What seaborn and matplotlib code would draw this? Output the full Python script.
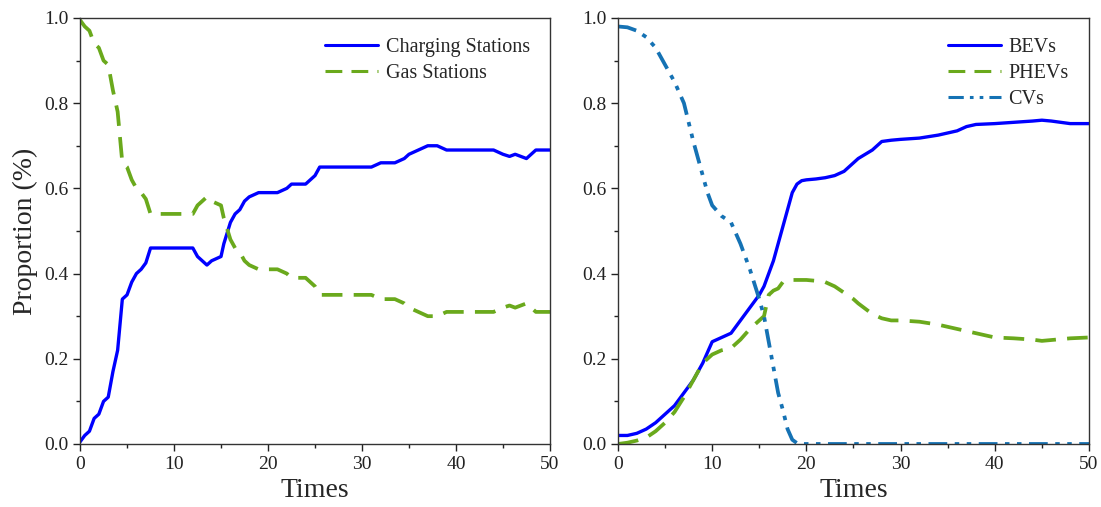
import numpy as np
import pandas as pd
import matplotlib
matplotlib.use("Agg")
import matplotlib.pyplot as plt
import seaborn as sns
from matplotlib.ticker import MultipleLocator, FormatStrFormatter

# left panel: stations
st_x = [0, 0.5, 1, 1.5, 2, 2.5, 3, 3.5, 4, 4.5, 5, 5.5, 6, 6.5, 7, 7.5, 8, 10, 12,
        12.5, 13, 13.5, 14, 15, 15.3, 16, 16.5, 17, 17.5, 18, 19, 21, 22, 22.5, 24,
        25, 25.5, 31, 32, 33.5, 34.5, 35, 36, 37, 38, 39, 44, 45, 45.7, 46.3, 47.5,
        48, 48.5, 50]
charging = [0.005, 0.02, 0.03, 0.06, 0.07, 0.10, 0.11, 0.17, 0.22, 0.34, 0.35, 0.38,
            0.40, 0.41, 0.425, 0.46, 0.46, 0.46, 0.46, 0.44, 0.43, 0.42, 0.43, 0.44,
            0.47, 0.52, 0.54, 0.55, 0.57, 0.58, 0.59, 0.59, 0.60, 0.61, 0.61, 0.63,
            0.65, 0.65, 0.66, 0.66, 0.67, 0.68, 0.69, 0.70, 0.70, 0.69, 0.69, 0.68,
            0.675, 0.68, 0.67, 0.68, 0.69, 0.69]
gas = [0.995, 0.98, 0.97, 0.94, 0.93, 0.90, 0.89, 0.83, 0.78, 0.66, 0.65, 0.62,
       0.60, 0.59, 0.575, 0.54, 0.54, 0.54, 0.54, 0.56, 0.57, 0.58, 0.57, 0.56,
       0.53, 0.48, 0.46, 0.45, 0.43, 0.42, 0.41, 0.41, 0.40, 0.39, 0.39, 0.37,
       0.35, 0.35, 0.34, 0.34, 0.33, 0.32, 0.31, 0.30, 0.30, 0.31, 0.31, 0.32,
       0.325, 0.32, 0.33, 0.32, 0.31, 0.31]

# right panel: vehicles
veh_x = [0, 1, 2, 3, 4, 5, 6, 7, 8, 9, 9.5, 10, 11, 12, 13, 14, 15, 15.5, 16, 16.5,
         17, 17.5, 18, 18.5, 19, 19.5, 20, 21, 22, 23, 24, 25, 25.5, 27, 28, 29, 30,
         32, 34, 36, 37, 38, 40, 42, 44, 45, 46, 47, 48, 50]
bevs = [0.02, 0.02, 0.025, 0.035, 0.05, 0.07, 0.09, 0.12, 0.15, 0.19, 0.215, 0.24,
        0.25, 0.26, 0.29, 0.32, 0.35, 0.37, 0.40, 0.43, 0.47, 0.51, 0.55, 0.59,
        0.61, 0.618, 0.62, 0.622, 0.625, 0.63, 0.64, 0.66, 0.67, 0.69, 0.71, 0.713,
        0.715, 0.718, 0.725, 0.735, 0.745, 0.75, 0.752, 0.755, 0.758, 0.76, 0.758,
        0.755, 0.752, 0.752]
phevs = [0.0, 0.003, 0.008, 0.015, 0.03, 0.05, 0.075, 0.11, 0.15, 0.19, 0.20, 0.21,
         0.22, 0.225, 0.245, 0.27, 0.29, 0.30, 0.35, 0.36, 0.365, 0.38, 0.385, 0.385,
         0.385, 0.385, 0.385, 0.383, 0.38, 0.37, 0.355, 0.34, 0.33, 0.305, 0.295,
         0.29, 0.29, 0.287, 0.28, 0.27, 0.265, 0.26, 0.25, 0.248, 0.245, 0.242,
         0.244, 0.246, 0.248, 0.25]
cvs = [0.98, 0.978, 0.97, 0.955, 0.93, 0.89, 0.85, 0.80, 0.71, 0.63, 0.59, 0.56,
       0.535, 0.52, 0.47, 0.41, 0.34, 0.30, 0.24, 0.18, 0.12, 0.08, 0.035, 0.01,
       0.002, 0.0, 0.0, 0.0, 0.0, 0.0, 0.0, 0.0, 0.0, 0.0, 0.0, 0.0, 0.0, 0.0, 0.0,
       0.0, 0.0, 0.0, 0.0, 0.0, 0.0, 0.0, 0.0, 0.0, 0.0, 0.0]

sns.set_style("ticks")
plt.rcParams["font.family"] = ["Liberation Serif", "DejaVu Serif"]

BLUE = "#0000ff"
GREEN = "#6aa91c"
TEAL = "#1572b4"
LW = 2.4

fig = plt.figure(figsize=(11.01, 5.07), dpi=100)
ax1 = fig.add_axes([0.0727, 0.1243, 0.4268, 0.8403])
ax2 = fig.add_axes([0.5613, 0.1243, 0.4278, 0.8403])

sns.lineplot(x=st_x, y=charging, ax=ax1, color=BLUE, lw=LW, label="Charging Stations")
sns.lineplot(x=st_x, y=gas, ax=ax1, color=GREEN, lw=2.7, label="Gas Stations",
             linestyle=(0, (5.5, 3)))

sns.lineplot(x=veh_x, y=bevs, ax=ax2, color=BLUE, lw=LW, label="BEVs")
sns.lineplot(x=veh_x, y=phevs, ax=ax2, color=GREEN, lw=2.7, label="PHEVs",
             linestyle=(0, (5.5, 3)))
sns.lineplot(x=veh_x, y=cvs, ax=ax2, color=TEAL, lw=2.7, label="CVs",
             linestyle=(0, (5, 2, 1.2, 2, 1.2, 2)))

for ax in (ax1, ax2):
    ax.set_xlim(0, 50)
    ax.set_ylim(0, 1.0)
    ax.xaxis.set_major_locator(MultipleLocator(10))
    ax.xaxis.set_minor_locator(MultipleLocator(5))
    ax.yaxis.set_major_locator(MultipleLocator(0.2))
    ax.yaxis.set_minor_locator(MultipleLocator(0.1))
    ax.yaxis.set_major_formatter(FormatStrFormatter("%.1f"))
    ax.tick_params(which="major", direction="out", length=5, width=1,
                   labelsize=14, top=False, right=False, colors="#222222")
    ax.tick_params(which="minor", direction="out", length=3, width=1,
                   top=False, right=False, colors="#222222")
    for s in ax.spines.values():
        s.set_visible(True)
        s.set_linewidth(1.0)
        s.set_color("#333333")
    ax.set_xlabel("Times", fontsize=20)
    leg = ax.legend(loc="upper right", frameon=False, fontsize=14.5,
                    handlelength=2.6, handletextpad=0.4, labelspacing=0.35,
                    borderaxespad=0.6)
    for ln in leg.get_lines():
        ln.set_linewidth(2.2)

ax1.set_ylabel("Proportion (%)", fontsize=20)
ax2.set_ylabel("")

fig.savefig("out.png", dpi=100)
